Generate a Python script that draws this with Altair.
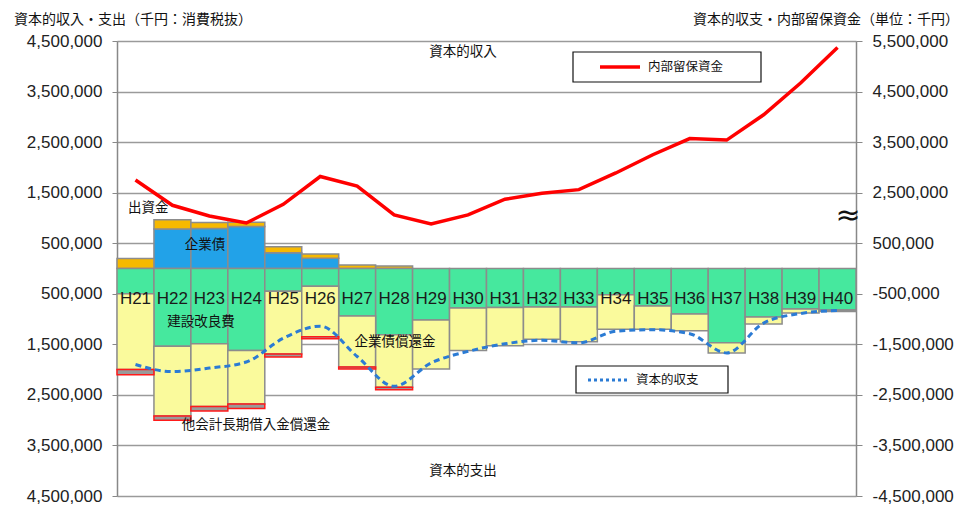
import altair as alt
import pandas as pd

years = ["H21", "H22", "H23", "H24", "H25", "H26", "H27", "H28", "H29", "H30",
         "H31", "H32", "H33", "H34", "H35", "H36", "H37", "H38", "H39", "H40"]

# 資本的収入 (千円)
shusshikin = [200000, 185000, 120000, 85000, 120000, 80000, 70000, 50000, 0, 0,
              0, 0, 0, 0, 0, 0, 0, 0, 0, 0]
kigyousai = [0, 780000, 790000, 830000, 310000, 205000, 0, 0, 0, 0,
             0, 0, 0, 0, 0, 0, 0, 0, 0, 0]
# 資本的支出 (千円, 負値)
kensetsu = [-500000, -1540000, -1490000, -1620000, -450000, -350000, -940000, -1310000, -1020000, -780000,
            -770000, -760000, -760000, -520000, -740000, -900000, -1470000, -960000, -800000, -820000]
shoukan = [-1500000, -1380000, -1240000, -1060000, -1240000, -1000000, -1010000, -1040000, -970000, -840000,
           -760000, -640000, -690000, -680000, -460000, -330000, -200000, -140000, -80000, -30000]
takaikei = [-100000, -80000, -90000, -90000, -60000, -40000, -40000, -50000, 0, 0,
            0, 0, 0, 0, 0, 0, 0, 0, 0, 0]
# 内部留保資金 / 資本的収支 (千円)
ryuho = [2750000, 2250000, 2040000, 1900000, 2270000, 2820000, 2630000, 2060000, 1880000, 2060000,
         2370000, 2490000, 2560000, 2890000, 3250000, 3570000, 3540000, 4040000, 4670000, 5370000]
shushi = [-1900000, -2040000, -1970000, -1850000, -1380000, -1140000, -1740000, -2330000, -1870000, -1640000,
          -1490000, -1420000, -1470000, -1240000, -1210000, -1290000, -1670000, -1080000, -890000, -830000]

series_names = ["企業債", "出資金", "建設改良費", "企業債償還金", "他会計長期借入金償還金"]
series_vals = [kigyousai, shusshikin, kensetsu, shoukan, takaikei]
fills = ["#22a2e8", "#f7b900", "#46e89e", "#fafa9c", "#9a9a9a"]
strokes = ["#8c8c8c", "#8c8c8c", "#8c8c8c", "#8c8c8c", "#ff1a1a"]

rows = []
for k, (name, vals) in enumerate(zip(series_names, series_vals)):
    for yr, v in zip(years, vals):
        if v != 0:
            rows.append({"year": yr, "series": name, "value": v, "ord": k + 1})
bars_df = pd.DataFrame(rows)
lines_df = pd.DataFrame({"year": years, "ryuho": ryuho, "shushi": shushi, "lab": -600000})

ticks = [-4500000 + i * 1000000 for i in range(10)]
y_scale = alt.Scale(domain=[-4500000, 4500000], nice=False, zero=False)
x_enc = alt.X("year:N", sort=years,
              scale=alt.Scale(domain=years, paddingInner=0, paddingOuter=0), axis=None)

FONT_NUM = "Liberation Sans"
FONT_JP = "Noto Sans CJK JP"

bars = alt.Chart(bars_df).mark_bar(strokeWidth=1.5).encode(
    x=x_enc,
    y=alt.Y("value:Q", stack="zero", scale=y_scale,
            axis=alt.Axis(values=ticks, labelExpr="format(abs(datum.value), ',')",
                          grid=True, gridColor="#9a9a9a", gridWidth=1.5,
                          domainColor="#888888", domainWidth=1.5, tickColor="#888888",
                          tickSize=5, labelPadding=10, title=None,
                          labelFont=FONT_NUM, labelFontSize=17, labelColor="#222222")),
    fill=alt.Fill("series:N", scale=alt.Scale(domain=series_names, range=fills), legend=None),
    stroke=alt.Stroke("series:N", scale=alt.Scale(domain=series_names, range=strokes), legend=None),
    order=alt.Order("ord:Q"),
)

red_line = alt.Chart(lines_df).transform_calculate(
    ryuho_plot="datum.ryuho - 1000000"
).mark_line(color="#ff0000", strokeWidth=3.5).encode(
    x=x_enc,
    y=alt.Y("ryuho_plot:Q", scale=y_scale, axis=None),
)

blue_line = alt.Chart(lines_df).mark_line(
    color="#2b7bd4", strokeWidth=3, strokeDash=[6, 4], interpolate="monotone"
).encode(
    x=x_enc,
    y=alt.Y("shushi:Q", scale=y_scale,
            axis=alt.Axis(orient="right", values=ticks, grid=False,
                          labelExpr="replace(datum.value > 1000000 ? format(datum.value + 1000000, ',') : format(datum.value, ','), '\u2212', '-')",
                          domainColor="#888888", domainWidth=1.5, tickColor="#888888",
                          tickSize=6, labelPadding=10, title=None,
                          labelFont=FONT_NUM, labelFontSize=17, labelColor="#222222")),
)

year_labels = alt.Chart(lines_df).mark_text(
    font=FONT_NUM, fontSize=17, color="#1a1a1a", baseline="middle"
).encode(
    x=x_enc,
    y=alt.Y("lab:Q", scale=y_scale, axis=None),
    text="year:N",
)

one = pd.DataFrame({"a": [0]})


def txt(s, x, y, size=13.5, align="center", weight="normal", font=FONT_JP, color="#111111"):
    return alt.Chart(one).mark_text(
        text=s, font=font, fontSize=size, align=align, baseline="middle",
        fontWeight=weight, color=color
    ).encode(x=alt.value(x), y=alt.value(y))


annotations = [
    txt("資本的収入・支出（千円：消費税抜）", -103, -21, size=14, align="left"),
    txt("資本的収支・内部留保資金（単位：千円）", 842, -21, size=14, align="right"),
    txt("資本的収入", 346, 11),
    txt("出資金", 11, 167, align="left"),
    txt("企業債", 88, 204),
    txt("建設改良費", 84, 281),
    txt("企業債償還金", 278, 301),
    txt("他会計長期借入金償還金", 139, 384),
    txt("資本的支出", 346, 430),
    txt("≈", 731, 175, size=30, font="DejaVu Sans"),
]

legend1_box = alt.Chart(one).mark_rect(fill="white", stroke="#111111", strokeWidth=1.2).encode(
    x=alt.value(456), x2=alt.value(644), y=alt.value(11), y2=alt.value(41))
legend1_line = alt.Chart(one).mark_rule(color="#ff0000", strokeWidth=3.5).encode(
    x=alt.value(483), x2=alt.value(523), y=alt.value(26))
legend1_text = txt("内部留保資金", 531, 26, size=12.5, align="left")

legend2_box = alt.Chart(one).mark_rect(fill="white", stroke="#111111", strokeWidth=1.2).encode(
    x=alt.value(459), x2=alt.value(611), y=alt.value(325), y2=alt.value(352))
legend2_line = alt.Chart(one).mark_rule(color="#2b7bd4", strokeWidth=3, strokeDash=[3, 3]).encode(
    x=alt.value(471), x2=alt.value(511), y=alt.value(339))
legend2_text = txt("資本的収支", 519, 339, size=12.5, align="left")

chart = alt.layer(
    bars, blue_line, red_line, year_labels,
    legend1_box, legend1_line, legend1_text,
    legend2_box, legend2_line, legend2_text,
    *annotations
).resolve_axis(y="independent").properties(
    width=739, height=455,
    padding={"left": 109, "top": 33, "right": 104, "bottom": 10},
    autosize=alt.AutoSizeParams(type="none"),
).configure_view(stroke="#888888", strokeWidth=1.5).configure(background="white")

chart.save("out.html", embed_options={"renderer": "svg", "actions": False})
